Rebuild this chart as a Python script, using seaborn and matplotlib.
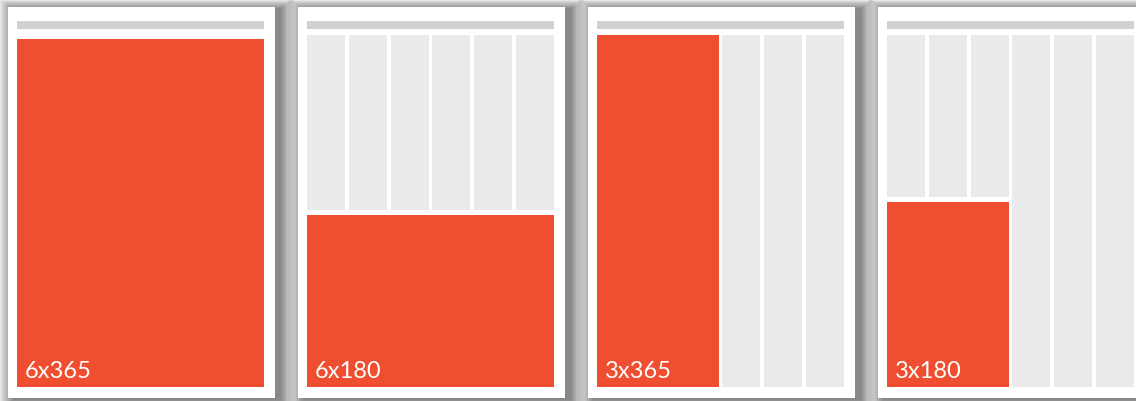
import matplotlib
matplotlib.use("Agg")
import matplotlib.pyplot as plt
from matplotlib.patches import Rectangle
import seaborn as sns
import numpy as np

# ---- data ----
labels = ["6x365", "6x180", "3x365", "3x180"]
block_cols = [6, 6, 3, 3]               # columns spanned by the red block
block_height = [0.989, 0.489, 1.0, 0.526]  # fraction of page height
n_cols = 6

RED = "#F04E30"
COL_GRAY = "#EAEAEC"
BAR_GRAY = "#D0D1D3"

sns.set_theme(style="white")
plt.rcParams['font.family'] = ['Lato', 'DejaVu Sans']

W, H = 1136, 401
fig = plt.figure(figsize=(W / 100, H / 100), dpi=100)
fig.patch.set_facecolor("white")
bg = fig.add_axes([0, 0, 1, 1])
bg.set_xlim(0, W)
bg.set_ylim(H, 0)
bg.set_axis_off()

card_w, card_h, card_top = 267, 391, 7
card_lefts = [8 + 290 * i for i in range(4)]

for L in card_lefts:
    n = 28
    for k in range(n):
        grow = k * 0.55
        bg.add_patch(Rectangle((L + 6 - grow * 1.1, card_top + 2 - grow * 0.7),
                               card_w + 2 * grow, card_h + 2 * grow * 0.7,
                               facecolor="black", alpha=0.02, linewidth=0, zorder=1))
    bg.add_patch(Rectangle((L, card_top), card_w, card_h, facecolor="white",
                           linewidth=0, zorder=2))

gap = 0.092
gap_y = 4.5 / 352
for i, L in enumerate(card_lefts):
    ax = fig.add_axes([(L + 9) / W, (H - 387) / H, 247 / W, 366 / H])
    ax.set_xlim(0, n_cols - gap)
    ax.set_ylim(0, 366 / 352)
    ax.set_axis_off()
    x = np.arange(n_cols)
    in_block = x < block_cols[i]
    bottoms = np.where(in_block, block_height[i] + gap_y, 0.0)
    heights = 1.0 - bottoms
    keep = heights > 0
    if keep.any():
        ax.bar(x[keep], heights[keep], width=1 - gap, bottom=bottoms[keep],
               align="edge", color=COL_GRAY, linewidth=0)
    ax.bar(0, block_height[i], width=block_cols[i] - gap, align="edge",
           color=RED, linewidth=0)
    ax.bar(0, 8 / 352, width=n_cols - gap, bottom=(387 - 29) / 352,
           align="edge", color=BAR_GRAY, linewidth=0)
    ax.annotate(labels[i], xy=(0, 0), xycoords="axes fraction",
                xytext=(8, 9), textcoords="offset pixels",
                color="white", fontsize=17, va="baseline", ha="left")

fig.savefig("out.png", dpi=100)
